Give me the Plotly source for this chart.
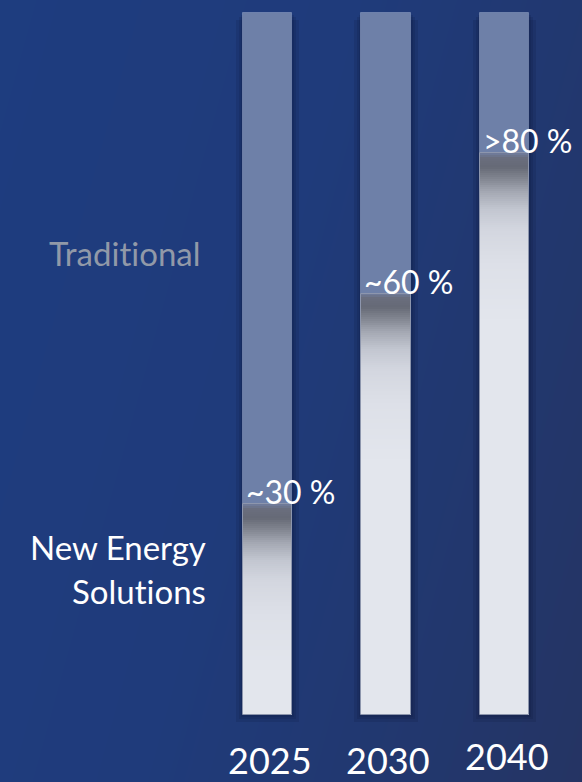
import numpy as np
import plotly.graph_objects as go

# ---- data ----
years = ["2025", "2030", "2040"]
new_energy_share = [30, 60, 80]          # % of bar (bottom, light)
share_labels = ["~30 %", "~60 %", ">80 %"]
total_share = [100, 100, 100]
series_names = ["Tradit\u200cional", "New Energy", "Solut\u200cions"]

# ---- geometry helpers (pixel -> data conversion) ----
W, H = 582, 782
PX_X = 118.5          # px per category unit
PX_Y = 7.02           # px per % unit
x0_px, y0_px = 267.5, 715.0
x_range = [-x0_px / PX_X, (W - x0_px) / PX_X]
y_range = [-(H - y0_px) / PX_Y, y0_px / PX_Y]
bar_w = 49.5 / PX_X
xs = list(range(len(years)))

fig = go.Figure()

# background gradient
gx = np.linspace(x_range[0] - 0.5, x_range[1] + 0.5, 12)
gy = np.linspace(y_range[0] - 5, y_range[1] + 5, 12)
GX, GY = np.meshgrid((gx - gx[0]) / (gx[-1] - gx[0]), (gy - gy[0]) / (gy[-1] - gy[0]))
Z = 0.75 * GX + 0.25 * (1 - GY)
fig.add_trace(go.Heatmap(
    x=gx, y=gy, z=Z, zsmooth="best", showscale=False, hoverinfo="skip",
    colorscale=[[0, "#1e3d80"], [0.45, "#1f3b7b"], [0.75, "#22376d"], [1, "#26335f"]],
    zmin=0, zmax=1))

# soft shadows around bars
for extra in [7, 4, 2]:
    fig.add_trace(go.Bar(
        x=xs, y=total_share, base=[-extra / PX_Y] * 3, width=bar_w + 2 * extra / PX_X,
        marker=dict(color="rgba(8,18,50,0.13)", line=dict(width=0)),
        hoverinfo="skip", showlegend=False))

# Traditional (top) part
fig.add_trace(go.Bar(
    x=xs, y=[t - v for t, v in zip(total_share, new_energy_share)], base=new_energy_share,
    width=bar_w, name="Traditional",
    marker=dict(color="#6e80a8", line=dict(color="rgba(150,165,200,0.5)", width=1)),
    hoverinfo="skip", showlegend=False))

# New energy (bottom) part
fig.add_trace(go.Bar(
    x=xs, y=new_energy_share, base=[0] * 3, width=bar_w, name="New Energy Solutions",
    marker=dict(color="#e3e6ed", line=dict(width=0)),
    hoverinfo="skip", showlegend=False))

# shading just below the transition (styling gradient)
stops_px = [0, 4, 13, 24, 38, 55, 75, 110, 170]
stops_col = ["#6f7a98", "#6a6e7e", "#666a76", "#80848f", "#a4a8b3",
             "#c2c6d0", "#d3d6df", "#dde0e8", "#e3e6ed"]


def hex2rgb(h):
    h = h.lstrip("#")
    return np.array([int(h[i:i + 2], 16) for i in (0, 2, 4)], float)


cols = [hex2rgb(c) for c in stops_col]
step = 2
for off in range(0, stops_px[-1], step):
    j = np.searchsorted(stops_px, off, side="right") - 1
    j = min(j, len(stops_px) - 2)
    t = (off - stops_px[j]) / (stops_px[j + 1] - stops_px[j])
    c = cols[j] * (1 - t) + cols[j + 1] * t
    color = "rgb(%d,%d,%d)" % tuple(np.round(c))
    h = (step + 0.6) / PX_Y
    fig.add_trace(go.Bar(
        x=xs, y=[h] * 3, base=[v - (off + step) / PX_Y for v in new_energy_share],
        width=bar_w, marker=dict(color=color, line=dict(width=0)),
        hoverinfo="skip", showlegend=False))

# outline for the light part, drawn on top
fig.add_trace(go.Bar(
    x=xs, y=new_energy_share, base=[0] * 3, width=bar_w,
    marker=dict(color="rgba(0,0,0,0)", line=dict(color="#8d96ad", width=1)),
    hoverinfo="skip", showlegend=False))

FONT = "Lato"
ann = []
for i, (v, lab) in enumerate(zip(new_energy_share, share_labels)):
    ann.append(dict(x=i - bar_w / 2, y=v, xref="x", yref="y", text=lab, showarrow=False,
                    xanchor="left", yanchor="bottom", xshift=1, yshift=-9,
                    font=dict(family=FONT, size=32, color="white")))
year_y = [760, 760, 756]
for i, (yr, yp) in enumerate(zip(years, year_y)):
    ann.append(dict(x=i, y=1 - yp / H, xref="x", yref="paper", text=yr, showarrow=False,
                    xanchor="center", yanchor="middle", xshift=2,
                    font=dict(family=FONT, size=36, color="white")))
ann.append(dict(x=202 / W, y=1 - 253 / H, xref="paper", yref="paper", text=series_names[0],
                showarrow=False, xanchor="right", yanchor="middle",
                font=dict(family=FONT, size=33, color="#9199a8")))
ann.append(dict(x=208 / W, y=1 - 547 / H, xref="paper", yref="paper", text=series_names[1],
                showarrow=False, xanchor="right", yanchor="middle",
                font=dict(family=FONT, size=33, color="white")))
ann.append(dict(x=208 / W, y=1 - 591 / H, xref="paper", yref="paper", text=series_names[2],
                showarrow=False, xanchor="right", yanchor="middle",
                font=dict(family=FONT, size=33, color="white")))

fig.update_layout(
    width=W, height=H, autosize=False, margin=dict(l=0, r=0, t=0, b=0),
    paper_bgcolor="#1e3c7e", plot_bgcolor="#1e3c7e", barmode="overlay",
    bargap=0, showlegend=False, annotations=ann,
    xaxis=dict(range=x_range, visible=False, fixedrange=True),
    yaxis=dict(range=y_range, visible=False, fixedrange=True),
)
fig.write_html("out.html")
